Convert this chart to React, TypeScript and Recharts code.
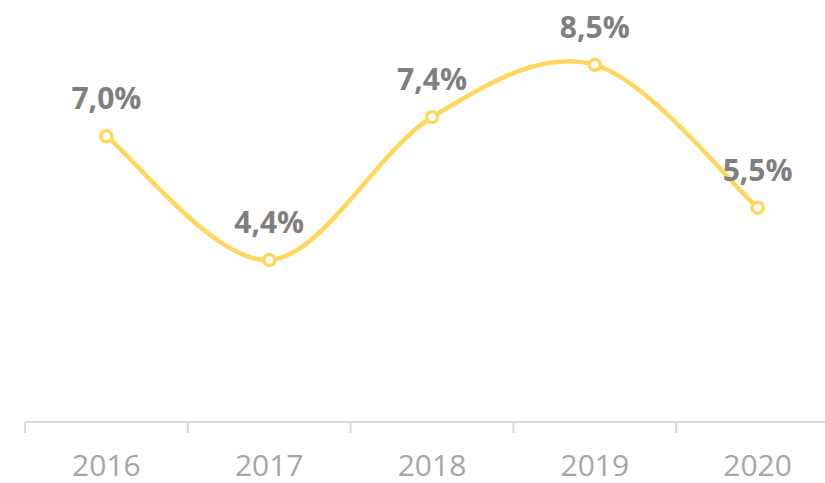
import { LineChart, Line, XAxis, YAxis, LabelList } from "recharts";

const years = ["2016", "2017", "2018", "2019", "2020"];
const growth = [7.0, 4.4, 7.4, 8.5, 5.5];
const boundaryTicks = [0, 1, 2, 3, 4, 5];
const centerTicks = [0.5, 1.5, 2.5, 3.5, 4.5];

const data = years.map((year, i) => ({ x: i + 0.5, year, value: growth[i] }));

const FONT = "'Open Sans', 'Noto Sans', sans-serif";

// Excel-style smooth line (Catmull-Rom through the points)
function smoothCurve(context: any) {
  let pts: number[][] = [];
  return {
    areaStart() {},
    areaEnd() {},
    lineStart() {
      pts = [];
    },
    point(x: number, y: number) {
      pts.push([x, y]);
    },
    lineEnd() {
      if (!pts.length) return;
      context.moveTo(pts[0][0], pts[0][1]);
      for (let i = 0; i < pts.length - 1; i++) {
        const p0 = pts[i - 1] || pts[i];
        const p1 = pts[i];
        const p2 = pts[i + 1];
        const p3 = pts[i + 2] || p2;
        context.bezierCurveTo(
          p1[0] + (p2[0] - p0[0]) / 6,
          p1[1] + (p2[1] - p0[1]) / 6,
          p2[0] - (p3[0] - p1[0]) / 6,
          p2[1] - (p3[1] - p1[1]) / 6,
          p2[0],
          p2[1]
        );
      }
    },
  };
}

const fmt = (v: number) => `${v.toFixed(1).replace(".", ",")}%`;

export default function App() {
  return (
    <div
      style={{
        position: "absolute",
        left: 0,
        top: 0,
        width: 825,
        height: 483,
        overflow: "hidden",
        background: "#fff",
      }}
    >
      <LineChart
        width={839}
        height={483}
        data={data}
        margin={{ top: 41, right: 0, left: 25, bottom: 0 }}
      >
        <XAxis
          xAxisId="a"
          dataKey="x"
          type="number"
          domain={[0, 5]}
          ticks={boundaryTicks}
          tick={() => <g />}
          height={11}
          axisLine={{ stroke: "#D9D9D9", strokeWidth: 2 }}
          tickLine={{ stroke: "#D9D9D9", strokeWidth: 2 }}
          tickSize={11}
        />
        <XAxis
          xAxisId="b"
          dataKey="x"
          type="number"
          domain={[0, 5]}
          ticks={centerTicks}
          tickFormatter={(v: number) => years[Math.floor(v)]}
          axisLine={false}
          tickLine={false}
          height={50}
          tick={{ fill: "#A6A6A6", fontSize: 30, fontFamily: FONT }}
          tickMargin={16}
        />
        <YAxis hide domain={[1, 9]} />
        <Line
          xAxisId="a"
          dataKey="value"
          type={smoothCurve as any}
          stroke="#FFD75E"
          strokeWidth={4.5}
          dot={{ r: 5.5, fill: "#fff", stroke: "#FFD75E", strokeWidth: 3.5 }}
          activeDot={false}
          isAnimationActive={false}
        >
          <LabelList
            dataKey="value"
            position="top"
            offset={27}
            formatter={(v: any) => fmt(Number(v))}
            style={{ fill: "#7F7F7F", fontSize: 30, fontWeight: 700, fontFamily: FONT }}
          />
        </Line>
      </LineChart>
    </div>
  );
}
